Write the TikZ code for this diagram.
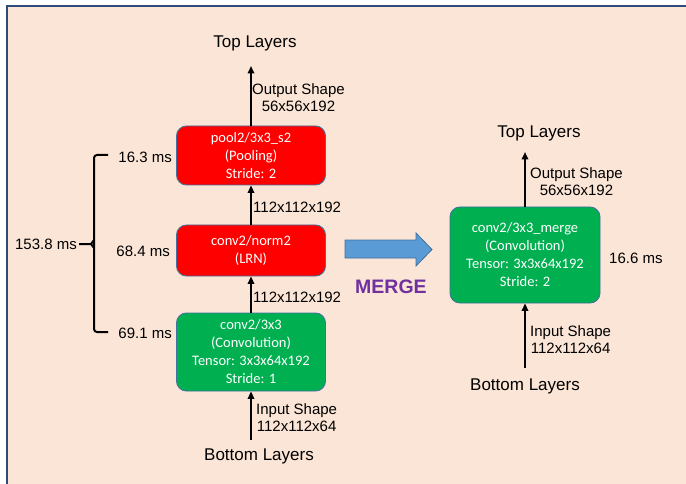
\documentclass[tikz,border=0pt]{standalone}
\usepackage{fontspec}
\setmainfont{Liberation Sans}
\newfontfamily\boxfont{Carlito}
\usetikzlibrary{arrows.meta}
\definecolor{bgpeach}{HTML}{FBE5D6}
\definecolor{framebl}{HTML}{2F4B7C}
\definecolor{layred}{HTML}{FF0000}
\definecolor{laygreen}{HTML}{00B050}
\definecolor{layedge}{HTML}{41719C}
\definecolor{mergebl}{HTML}{5B9BD5}
\definecolor{mergepur}{HTML}{7030A0}
\tikzset{
  layer/.style={draw=layedge, line width=0.9pt, rounded corners=10pt,
    minimum width=149pt, align=center, text=white, inner sep=0pt,
    font=\boxfont\fontsize{14.5}{18}\selectfont},
  redlayer/.style={layer, fill=layred},
  greenlayer/.style={layer, fill=laygreen},
  lbl/.style={inner sep=0pt, align=center, font=\fontsize{15}{17}\selectfont},
  endlbl/.style={inner sep=0pt, font=\fontsize{17}{20}\selectfont},
  flow/.style={line width=2pt, -{Triangle[width=6.5pt,length=7.5pt]}},
  bracket/.style={line width=2pt, rounded corners=3pt}
}
\begin{document}
\begin{tikzpicture}[x=1pt, y=-1pt]
  \useasboundingbox (0,0) rectangle (686,484);
  % page background and frame
  \fill[bgpeach] (7,6) rectangle (686,484);
  \draw[framebl, line width=2pt] (7,484) -- (7,6) -- (686,6);

  % ---- original layer stack ----
  \node[endlbl] (topA) at (255,43) {Top Layers};
  \coordinate (topAend) at (251,66);
  \node[redlayer, minimum height=59pt] (pool) at (251,155.5)
    {pool2/3x3\_s2\\(Pooling)\\Stride: 2};
  \node[redlayer, minimum height=51pt] (norm) at (251,250.5)
    {conv2/norm2\\(LRN)};
  \node[greenlayer, minimum height=78pt] (conv) at (251,352)
    {conv2/3x3\\(Convolution)\\Tensor: 3x3x64x192\\Stride: 1};
  \coordinate (botAend) at (251,440);
  \node[endlbl] (botA) at (259,456) {Bottom Layers};

  \draw[flow] (pool.north) -- (topAend);
  \draw[flow] (norm.north) -- (pool.south);
  \draw[flow] (conv.north) -- (norm.south);
  \draw[flow] (botAend) -- (conv.south);

  \node[lbl, anchor=west] (outA) at (252,97.5) {Output Shape\\56x56x192};
  \node[lbl, anchor=west] (midA) at (253,207) {112x112x192};
  \node[lbl, anchor=west] (midB) at (253,297) {112x112x192};
  \node[lbl, anchor=west] (inA) at (256,417.5) {Input Shape\\112x112x64};

  % per-layer timings and their total
  \node[lbl, anchor=east] (tPool) at (172,157) {16.3 ms};
  \node[lbl, anchor=east] (tNorm) at (170,251) {68.4 ms};
  \node[lbl, anchor=east] (tConv) at (172,333) {69.1 ms};
  \node[lbl, anchor=east] (tSum) at (77,244) {153.8 ms};
  \draw[bracket] (108,155) -- (94,155) -- (94,332) -- (108,332);
  \draw[line width=2pt] (79,244) -- (91,244) -- (94,240);
  \draw[line width=2pt] (91,244) -- (94,248);

  % ---- merge arrow ----
  \fill[mergebl, draw=layedge, line width=0.8pt]
    (345,240) -- (416,240) -- (416,233) -- (432,249.5) -- (416,266)
    -- (416,258) -- (345,258) -- cycle;
  \node[inner sep=0pt, text=mergepur, font=\bfseries\fontsize{19.5}{22}\selectfont]
    (mergeTxt) at (391,287) {MERGE};

  % ---- merged layer ----
  \node[endlbl] (topB) at (539,133) {Top Layers};
  \coordinate (topBend) at (525,152);
  \node[greenlayer, minimum width=150pt, minimum height=96pt] (merged) at (525,255)
    {conv2/3x3\_merge\\(Convolution)\\Tensor: 3x3x64x192\\Stride: 2};
  \coordinate (botBend) at (525,368);
  \node[endlbl] (botB) at (525,386) {Bottom Layers};
  \draw[flow] (merged.north) -- (topBend);
  \draw[flow] (botBend) -- (merged.south);
  \node[lbl, anchor=west] (outB) at (530,181.5) {Output Shape\\56x56x192};
  \node[lbl, anchor=west] (inB) at (530,339.5) {Input Shape\\112x112x64};
  \node[lbl, anchor=west] (tMerged) at (609,258) {16.6 ms};
\end{tikzpicture}
\end{document}
